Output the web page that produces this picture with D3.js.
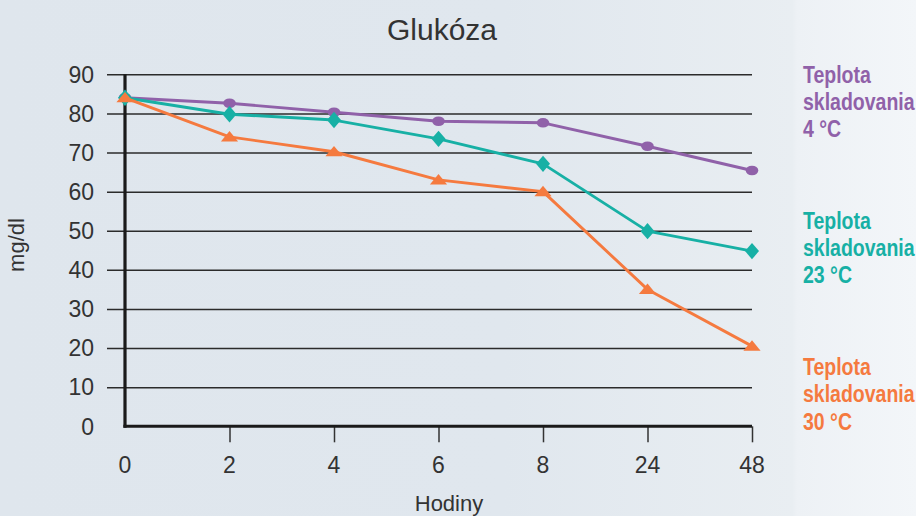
<!DOCTYPE html>
<html>
<head>
<meta charset="utf-8">
<script src="https://cdn.jsdelivr.net/npm/d3@7"></script>
<style>
  html, body { margin: 0; padding: 0; }
  body { width: 916px; height: 516px; overflow: hidden; }
  svg { display: block; }
</style>
</head>
<body>
<svg id="chart" width="916" height="516"></svg>
<script>
// Time points (hours) shown as evenly spaced categories
const hours = ["0", "2", "4", "6", "8", "24", "48"];
const yTicks = [0, 10, 20, 30, 40, 50, 60, 70, 80, 90];

// Glucose concentration (mg/dl) by storage temperature
const temp4 = [84, 82.6, 80.3, 78, 77.6, 71.6, 65.4];
const temp23 = [84, 79.8, 78.3, 73.5, 67.1, 49.9, 44.8];
const temp30 = [84, 74, 70.2, 63, 60, 35, 20.5];

const seriesNames = [
  ["Teplota", "skladovania", "4 °C"],
  ["Teplota", "skladovania", "23 °C"],
  ["Teplota", "skladovania", "30 °C"]
];
const seriesColors = ["#9061a9", "#17b0a5", "#f57a3f"];

const svg = d3.select("#chart");
const W = 916, H = 516;

// Soft background wash, lighter towards the right edge
const defs = svg.append("defs");
const grad = defs.append("linearGradient").attr("id", "bg").attr("x1", "0").attr("x2", "1").attr("y1", "0").attr("y2", "0");
[[0, "#dfe6ed"], [0.55, "#e0e7ee"], [0.865, "#e9eef2"], [0.87, "#edf1f5"], [1, "#f3f6f9"]].forEach(([o, c]) =>
  grad.append("stop").attr("offset", o).attr("stop-color", c));
svg.append("rect").attr("width", W).attr("height", H).attr("fill", "url(#bg)");

const x = d3.scalePoint().domain(hours).range([125, 752]);
const y = d3.scaleLinear().domain([0, 90]).range([426.3, 74.3]);

const labelFont = "'Liberation Sans', Arial, sans-serif";
const textColor = "#333333";

// Title
svg.append("text")
  .attr("x", 442).attr("y", 40)
  .attr("text-anchor", "middle")
  .attr("font-family", labelFont).attr("font-size", 29)
  .attr("fill", textColor)
  .attr("textLength", 110).attr("lengthAdjust", "spacingAndGlyphs")
  .text("Glukóza");

// Horizontal grid lines
const yAxis = d3.axisLeft(y).tickValues(yTicks.filter(v => v > 0)).tickSize(0).tickFormat("");
const gy = svg.append("g").attr("transform", "translate(107,0)").call(yAxis);
gy.select(".domain").remove();
gy.selectAll(".tick line")
  .attr("x1", 0).attr("x2", 752 - 107)
  .attr("stroke", "#2b2b2b").attr("stroke-width", 1.5);

// Y tick labels
svg.append("g").selectAll("text").data(yTicks).join("text")
  .attr("x", 94).attr("y", d => y(d))
  .attr("dy", "0.36em")
  .attr("text-anchor", "end")
  .attr("font-family", labelFont).attr("font-size", 23)
  .attr("fill", textColor)
  .text(d => d);

// X axis: ticks below the baseline, labels further down
const xAxis = d3.axisBottom(x).tickSize(16).tickFormat("");
const gx = svg.append("g").attr("transform", `translate(0,${y(0)})`).call(xAxis);
gx.select(".domain").remove();
gx.selectAll(".tick line").attr("stroke", "#333").attr("stroke-width", 1.5)
  .attr("display", d => d === "0" ? "none" : null);

svg.append("g").selectAll("text").data(hours).join("text")
  .attr("x", d => x(d)).attr("y", 465)
  .attr("dy", "0.36em")
  .attr("text-anchor", "middle")
  .attr("font-family", labelFont).attr("font-size", 23)
  .attr("fill", textColor)
  .text(d => d);

// Main axis lines
svg.append("line").attr("x1", 125).attr("x2", 125).attr("y1", y(90)).attr("y2", y(0) + 1.5)
  .attr("stroke", "#1a1a1a").attr("stroke-width", 3.2);
svg.append("line").attr("x1", 123.4).attr("x2", 752).attr("y1", y(0)).attr("y2", y(0))
  .attr("stroke", "#1a1a1a").attr("stroke-width", 3);

// Axis titles
svg.append("text")
  .attr("transform", `translate(16,245) rotate(-90)`)
  .attr("dy", "0.36em")
  .attr("text-anchor", "middle")
  .attr("font-family", labelFont).attr("font-size", 22)
  .attr("fill", textColor)
  .text("mg/dl");

svg.append("text")
  .attr("x", 449).attr("y", 511)
  .attr("text-anchor", "middle")
  .attr("font-family", labelFont).attr("font-size", 22)
  .attr("fill", textColor)
  .text("Hodiny");

// Series lines and markers
const line = d3.line().x((d, i) => x(hours[i])).y(d => y(d));
const series = [temp4, temp23, temp30];

series.forEach((vals, si) => {
  const g = svg.append("g");
  g.append("path").datum(vals)
    .attr("d", line)
    .attr("fill", "none")
    .attr("stroke", seriesColors[si])
    .attr("stroke-width", 2.9)
    .attr("stroke-linejoin", "round");

  const pts = g.selectAll(".m").data(vals).join("g")
    .attr("transform", (d, i) => `translate(${x(hours[i])},${y(d)})`);
  if (si === 0) {
    pts.append("ellipse").attr("rx", 6.3).attr("ry", 4.8).attr("fill", seriesColors[si]);
  } else if (si === 1) {
    pts.append("path").attr("d", "M0,-8.2L7,0L0,8.2L-7,0Z").attr("fill", seriesColors[si]);
  } else {
    pts.append("path").attr("d", "M0,-5.8L8.6,4.6L-8.6,4.6Z").attr("fill", seriesColors[si]);
  }
});

// Series labels on the right, set in a condensed width
const legendTop = [82.5, 228.5, 375];
const condensed = 0.83;
const legend = svg.append("g")
  .attr("font-family", labelFont)
  .attr("font-weight", "bold")
  .attr("font-size", 23.5);
seriesNames.forEach((lines, si) => {
  legend.append("g").selectAll("text").data(lines).join("text")
    .attr("transform", (d, li) => `translate(803,${legendTop[si] + li * 27.3}) scale(${condensed},1)`)
    .attr("fill", seriesColors[si])
    .text(d => d);
});
</script>
</body>
</html>
